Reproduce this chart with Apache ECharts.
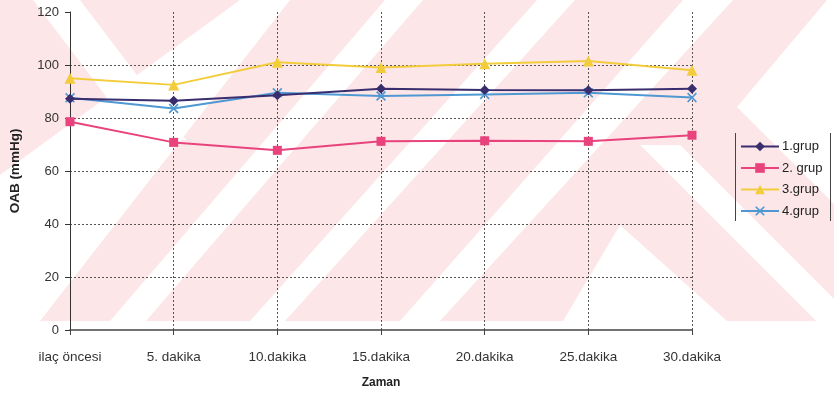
<!DOCTYPE html>
<html>
<head>
<meta charset="utf-8">
<script src="https://cdn.jsdelivr.net/npm/echarts@6/dist/echarts.min.js"></script>
<style>
  html, body { margin: 0; padding: 0; background: #ffffff; }
  #chart { width: 834px; height: 394px; }
</style>
</head>
<body>
<div id="chart"></div>
<script>
// Time points and mean arterial pressure (mmHg) per group
const categories = ['ilaç öncesi', '5. dakika', '10.dakika', '15.dakika', '20.dakika', '25.dakika', '30.dakika'];
const grup1 = [87.3, 86.5, 88.6, 91.0, 90.6, 90.5, 91.0];
const grup2 = [78.6, 70.8, 67.8, 71.2, 71.4, 71.2, 73.5];
const grup3 = [95.0, 92.5, 101.0, 99.1, 100.5, 101.5, 98.0];
const grup4 = [87.6, 83.6, 89.5, 88.3, 88.9, 89.5, 87.7];
const seriesNames = ['1.grup', '2. grup', '3.grup', '4.grup'];
const yTicks = { min: 0, max: 120, step: 20 };

const font = "'Liberation Sans', Arial, sans-serif";
const crossSymbol = 'path://M0,1.2L1.2,0L5,3.8L8.8,0L10,1.2L6.2,5L10,8.8L8.8,10L5,6.2L1.2,10L0,8.8L3.8,5Z';

// pale diagonal watermark pattern behind the plot
const pink = '#fce6e8';
const white = '#ffffff';
function poly(points) {
  return { type: 'polygon', z: -19, silent: true, shape: { points: points }, style: { fill: white } };
}
const wm = [];
wm.push({ type: 'rect', z: -20, silent: true, shape: { x: 0, y: 0, width: 834, height: 321 }, style: { fill: pink } });
// rising stripes
wm.push(poly([[240, 0], [290, 0], [40, 321], [-200, 321]]));
wm.push(poly([[385, 0], [423, 0], [146, 321], [110, 321]]));
wm.push(poly([[537, 0], [575, 0], [285, 321], [250, 321]]));
wm.push(poly([[683, 0], [733, 0], [440, 321], [400, 321]]));
// falling arm at the upper left
wm.push(poly([[33, 0], [80, 0], [186, 140], [139, 140]]));
// right-hand chevrons
wm.push(poly([[737, 107], [827, 0], [834, 0], [834, 204]]));
wm.push(poly([[640, 145], [680, 145], [834, 299], [834, 321], [816, 321]]));
wm.push(poly([[620, 225], [727, 321], [563, 321]]));

// legend frame: two vertical rules
wm.push({ type: 'line', z: 10, silent: true, shape: { x1: 735.5, y1: 133, x2: 735.5, y2: 221 }, style: { stroke: '#444', lineWidth: 1 } });
wm.push({ type: 'line', z: 10, silent: true, shape: { x1: 830.5, y1: 133, x2: 830.5, y2: 221 }, style: { stroke: '#444', lineWidth: 1 } });

const chart = echarts.init(document.getElementById('chart'), null, { renderer: 'canvas' });

const colors = ['#3a2d6e', '#e8437c', '#f3cc3c', '#4f98d2'];
const symbols = ['diamond', 'rect', 'triangle', crossSymbol];
const sizes = [10, 9, 11, 10];
const data = [grup1, grup2, grup3, grup4];

chart.setOption({
  backgroundColor: 'transparent',
  animation: false,
  textStyle: { fontFamily: font },
  graphic: wm,
  grid: { left: 66, right: 142, top: 12, bottom: 59, containLabel: false },
  legend: {
    orient: 'vertical',
    left: 740,
    top: 140,
    padding: 0,
    itemWidth: 38,
    itemHeight: 12,
    itemGap: 8.5,
    textStyle: { fontSize: 13, color: '#222', fontFamily: font, padding: [0, 0, 0, -2] },
    data: seriesNames
  },
  xAxis: {
    type: 'category',
    boundaryGap: false,
    data: categories,
    name: 'Zaman',
    nameLocation: 'middle',
    nameGap: 47,
    nameTextStyle: { fontSize: 12, fontWeight: 'bold', color: '#222' },
    axisLine: { lineStyle: { color: '#444', width: 1.5 } },
    axisTick: { show: true, length: 5, lineStyle: { color: '#444' } },
    axisLabel: { fontSize: 13.5, color: '#333', margin: 20, interval: 0 },
    splitLine: { show: true, showMinLine: false, lineStyle: { color: '#555', type: [2, 2], width: 1 } }
  },
  yAxis: {
    type: 'value',
    min: yTicks.min,
    max: yTicks.max,
    interval: yTicks.step,
    name: 'OAB (mmHg)',
    nameLocation: 'middle',
    nameGap: 48,
    nameRotate: 90,
    nameTextStyle: { fontSize: 13.5, fontWeight: 'bold', color: '#222' },
    axisLine: { show: true, lineStyle: { color: '#333', width: 1 } },
    axisTick: { show: true, length: 5, lineStyle: { color: '#333' } },
    axisLabel: { fontSize: 13, color: '#333', margin: 11 },
    splitLine: { show: true, showMaxLine: false, showMinLine: false, lineStyle: { color: '#555', type: [2, 2], width: 1 } }
  },
  series: seriesNames.map(function (name, i) {
    return {
      name: name,
      type: 'line',
      data: data[i],
      symbol: symbols[i],
      symbolSize: sizes[i],
      color: colors[i],
      lineStyle: { width: 2, color: colors[i] },
      itemStyle: { color: colors[i] },
      z: 3 + (3 - i)
    };
  })
});
</script>
</body>
</html>
